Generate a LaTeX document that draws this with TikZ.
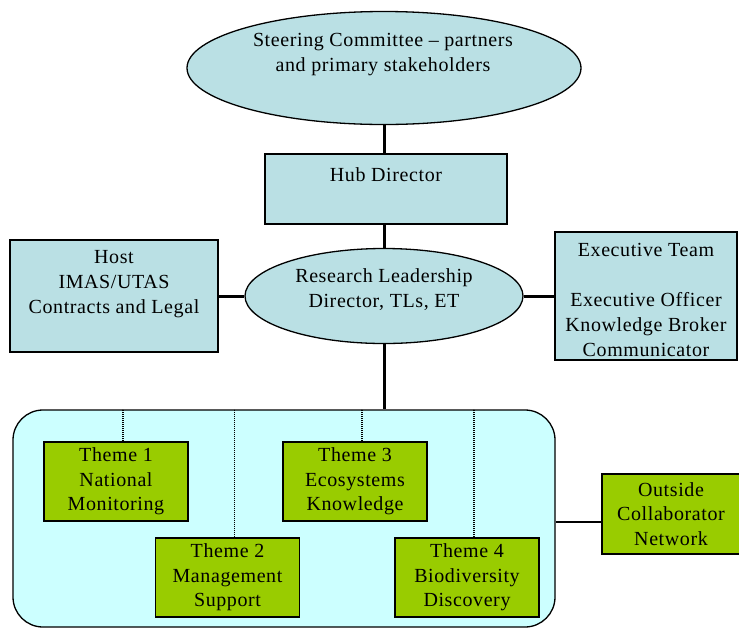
\documentclass[tikz,border=0pt]{standalone}
\usepackage{fontspec}
\setmainfont[LetterSpace=3]{Liberation Serif}
\usetikzlibrary{shapes.geometric}
\definecolor{tealf}{RGB}{186,224,228}
\definecolor{greenf}{RGB}{153,204,0}
\definecolor{cyanf}{RGB}{204,255,255}
\begin{document}
\begin{tikzpicture}[x=1pt,y=-1pt,
  box/.style={draw=black, line width=1.3pt, fill=tealf, rectangle, inner sep=0pt},
  gbox/.style={draw=black, line width=1.3pt, fill=greenf, rectangle, inner sep=0pt, align=center, font=\fontsize{20}{24.5}\selectfont},
  oval/.style={draw=black, line width=1.3pt, fill=tealf, ellipse, inner sep=0pt},
  txt/.style={align=center, font=\fontsize{20}{25}\selectfont, inner sep=0pt},
  link/.style={line width=3pt},
  dlink/.style={line width=1.6pt, dash pattern=on 1.2pt off 0.8pt}]
\useasboundingbox (0,0) rectangle (739,630);
% shapes
\node[oval, minimum width=394pt, minimum height=113pt] (sc) at (384,68) {};
\node[box, minimum width=242pt, minimum height=70pt] (hub) at (386,189) {};
\node[oval, minimum width=278pt, minimum height=95pt] (rl) at (384,296) {};
\node[box, minimum width=208pt, minimum height=112pt] (host) at (114,296) {};
\node[box, minimum width=182pt, minimum height=128pt] (exec) at (646,296) {};
\node[draw=black, line width=1.3pt, fill=cyanf, rounded corners=30pt, minimum width=542pt, minimum height=217pt, inner sep=0pt] (cont) at (284,518.5) {};
\node[gbox, minimum width=144pt, minimum height=79pt] (t1) at (116,481.5) {Theme 1\\National\\Monitoring};
\node[gbox, minimum width=144pt, minimum height=79pt] (t2) at (227.5,577.5) {Theme 2\\Management\\Support};
\node[gbox, minimum width=144pt, minimum height=79pt] (t3) at (355,481.5) {Theme 3\\Ecosystems\\Knowledge};
\node[gbox, minimum width=144pt, minimum height=79pt] (t4) at (467,577.5) {Theme 4\\Biodiversity\\Discovery};
\node[gbox, minimum width=138pt, minimum height=80pt] (out) at (671,514) {Outside\\Collaborator\\Network};
% texts
\node[txt] (sctxt) at (383,55) {Steering Committee -- partners\\and primary stakeholders};
\node[txt] (hubtxt) at (386,175) {Hub Director};
\node[txt] (rltxt) at (384,290) {Research Leadership\\Director, TLs, ET};
\node[txt] (hosttxt) at (114,284) {Host\\IMAS/UTAS\\Contracts and Legal};
\node[txt] (exectxt) at (646,300) {Executive Team\\[25pt]Executive Officer\\Knowledge Broker\\Communicator};
% connectors
\draw[link] (sc.south) -- (sc.south |- hub.north);
\draw[link] (hub.south -| rl.north) -- (rl.north);
\draw[link] (host.east) -- (rl.west);
\draw[link] (rl.east) -- (exec.west);
\draw[link] (rl.south) -- (rl.south |- cont.north);
\draw[line width=2pt] (out.west |- 0,522) coordinate (oa) -- (oa -| cont.east);
\draw[dlink] ([xshift=7pt]t1.north) -- ([xshift=7pt]t1.north |- cont.north);
\draw[dlink] ([xshift=7pt]t2.north) -- ([xshift=7pt]t2.north |- cont.north);
\draw[dlink] ([xshift=7pt]t3.north) -- ([xshift=7pt]t3.north |- cont.north);
\draw[dlink] ([xshift=7pt]t4.north) -- ([xshift=7pt]t4.north |- cont.north);
\end{tikzpicture}
\end{document}
